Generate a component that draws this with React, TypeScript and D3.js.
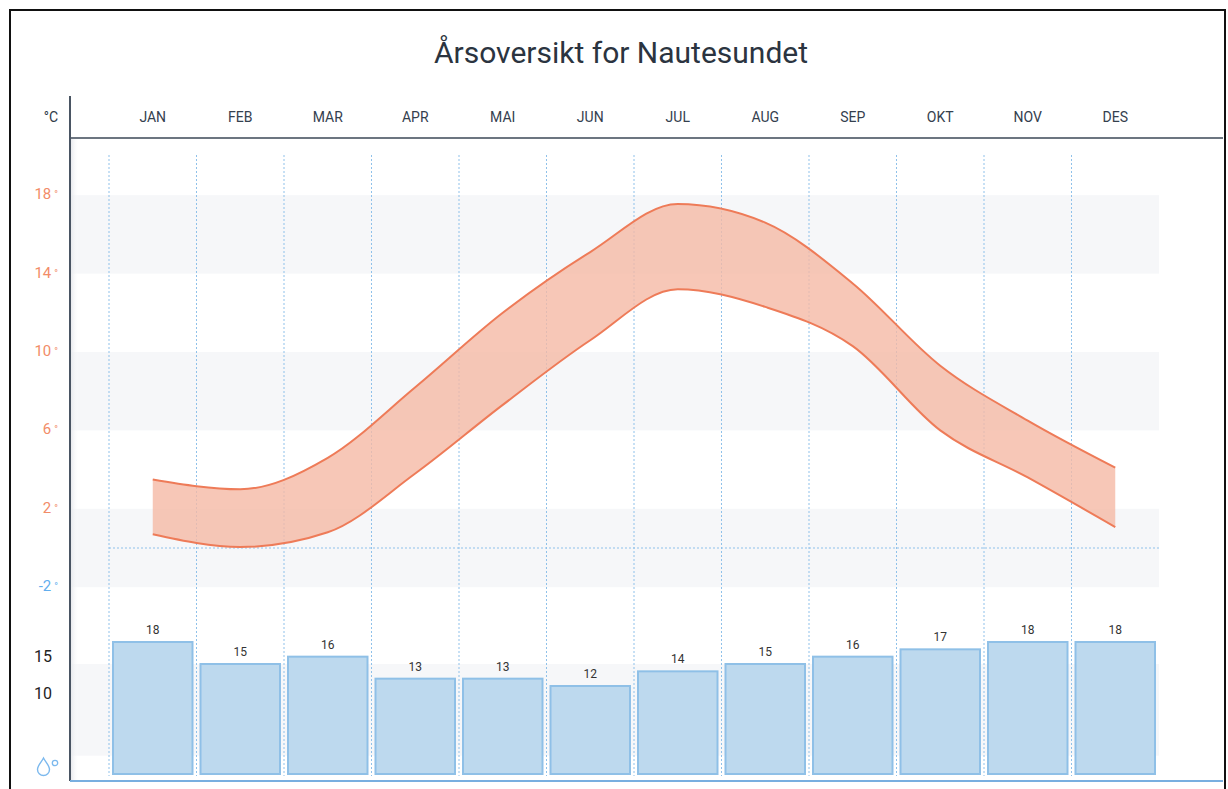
import React from "react";
import * as d3 from "d3";

const TITLE = "Årsoversikt for Nautesundet";
const months = ["JAN", "FEB", "MAR", "APR", "MAI", "JUN", "JUL", "AUG", "SEP", "OKT", "NOV", "DES"];
const tempMax = [3.5, 3.0, 4.6, 8.2, 12.0, 15.1, 17.55, 16.6, 13.5, 9.3, 6.5, 4.1];
const tempMin = [0.7, 0.05, 0.8, 3.8, 7.3, 10.6, 13.2, 12.3, 10.3, 6.0, 3.6, 1.07];
const precip = [18, 15, 16, 13, 13, 12, 14, 15, 16, 17, 18, 18];
const tempTicks = [18, 14, 10, 6, 2, -2];
const tempBands: [number, number][] = [[18, 14], [10, 6], [2, -2]];
const precipTickLabels = ["15", "10"];
const precipTickValues = [15, 10];

const FONT = "Roboto, 'Open Sans', sans-serif";

export default function App() {
  const x = d3.scaleBand<string>().domain(months).range([109, 1159]).padding(0);
  const yT = d3.scaleLinear().domain([-2, 18]).range([587.2, 195.2]);
  const yP = d3.scaleLinear().domain([0, 18]).range([774, 642]);
  const yLab = d3.scaleLinear().domain([0, 15]).range([768, 656]);
  const cx = (m: string) => (x(m) as number) + x.bandwidth() / 2;

  const data = months.map((m, i) => ({ m, hi: tempMax[i], lo: tempMin[i], p: precip[i] }));
  const curve = d3.curveMonotoneX;
  const area = d3
    .area<any>()
    .x((d) => cx(d.m))
    .y0((d) => yT(d.lo))
    .y1((d) => yT(d.hi))
    .curve(curve);
  const lineHi = d3.line<any>().x((d) => cx(d.m)).y((d) => yT(d.hi)).curve(curve);
  const lineLo = d3.line<any>().x((d) => cx(d.m)).y((d) => yT(d.lo)).curve(curve);

  const left = 70;
  const right = 1159;
  const bw = x.bandwidth();

  return (
    <svg
      width={1228}
      height={789}
      style={{ position: "absolute", left: 0, top: 0, background: "#fff" }}
      fontFamily={FONT}
    >
      <defs>
        <linearGradient id="axshadow" x1="0" x2="1" y1="0" y2="0">
          <stop offset="0" stopColor="#e6e8ec" stopOpacity={0.9} />
          <stop offset="1" stopColor="#ffffff" stopOpacity={0} />
        </linearGradient>
      </defs>
      {/* frame */}
      <rect x={10} y={10} width={1215} height={800} fill="none" stroke="#111" strokeWidth={2} />

      {/* title */}
      <text x={621} y={63} textAnchor="middle" fontSize={30} fill="#2b3440">
        {TITLE}
      </text>

      {/* temperature bands */}
      {tempBands.map(([a, b], i) => (
        <rect key={"tb" + i} x={left} y={yT(a)} width={right - left} height={yT(b) - yT(a)} fill="#f6f7f9" />
      ))}
      {/* precip band */}
      <rect x={left} y={yP(15)} width={right - left} height={yP(2.5) - yP(15)} fill="#f6f7f9" />

      {/* axis shadow */}
      <rect x={left + 1} y={139} width={8} height={642} fill="url(#axshadow)" />

      {/* vertical dotted lines */}
      {months.map((m) => (
        <line
          key={"v" + m}
          x1={x(m) as number}
          x2={x(m) as number}
          y1={155}
          y2={776}
          stroke="#8fc1ea"
          strokeWidth={1}
          strokeDasharray="2,2"
        />
      ))}
      {/* zero line */}
      <line x1={109} x2={right} y1={yT(0)} y2={yT(0)} stroke="#8fc1ea" strokeWidth={1} strokeDasharray="2,2" />

      {/* temperature band */}
      <path d={area(data) || ""} fill="#f5b9a5" fillOpacity={0.8} />
      <path d={lineHi(data) || ""} fill="none" stroke="#ee7b58" strokeWidth={2} />
      <path d={lineLo(data) || ""} fill="none" stroke="#ee7b58" strokeWidth={2} />

      {/* precipitation bars */}
      {data.map((d) => (
        <g key={"b" + d.m}>
          <rect
            x={(x(d.m) as number) + 4}
            y={yP(d.p)}
            width={bw - 8}
            height={yP(0) - yP(d.p)}
            fill="#bdd9ee"
            stroke="#8fc0e7"
            strokeWidth={2}
          />
          <text x={cx(d.m)} y={yP(d.p) - 8} textAnchor="middle" fontSize={12} fill="#333">
            {d.p}
          </text>
        </g>
      ))}

      {/* header line and axes */}
      <line x1={left} x2={1223} y1={138} y2={138} stroke="#3b4756" strokeWidth={1.5} />
      <line x1={left} x2={left} y1={96} y2={781} stroke="#4a5563" strokeWidth={2} />
      <line x1={left} x2={1223} y1={781} y2={781} stroke="#78afe0" strokeWidth={2} />

      {/* month labels */}
      {months.map((m) => (
        <text key={"m" + m} x={cx(m)} y={122} textAnchor="middle" fontSize={14} fill="#34404e">
          {m}
        </text>
      ))}
      <text x={58} y={122} textAnchor="end" fontSize={14} fill="#2e3a48">
        °C
      </text>

      {/* temperature tick labels */}
      {tempTicks.map((t) => (
        <text
          key={"t" + t}
          x={58}
          y={yT(t) + 4}
          textAnchor="end"
          fontSize={15}
          fill={t < 0 ? "#62aeee" : "#f28c68"}
        >
          {t}
          <tspan dx={3} fontSize={10} dy={-1}>
            °
          </tspan>
        </text>
      ))}

      {/* precip tick labels */}
      {precipTickLabels.map((l, i) => (
        <text key={"p" + l} x={52} y={yLab(precipTickValues[i]) + 6} textAnchor="end" fontSize={16} fill="#222">
          {l}
        </text>
      ))}
      {/* drop icon for 0 */}
      <g transform={`translate(43.5, ${yLab(0)})`}>
        <path
          d="M0,-10 C2,-6 6,-2.5 6,1.5 A6,6 0 1,1 -6,1.5 C-6,-2.5 -2,-6 0,-10 Z"
          fill="none"
          stroke="#7cb9ee"
          strokeWidth={1.4}
        />
        <circle cx={11.5} cy={-5} r={2.7} fill="none" stroke="#7cb9ee" strokeWidth={1.3} />
      </g>
    </svg>
  );
}
